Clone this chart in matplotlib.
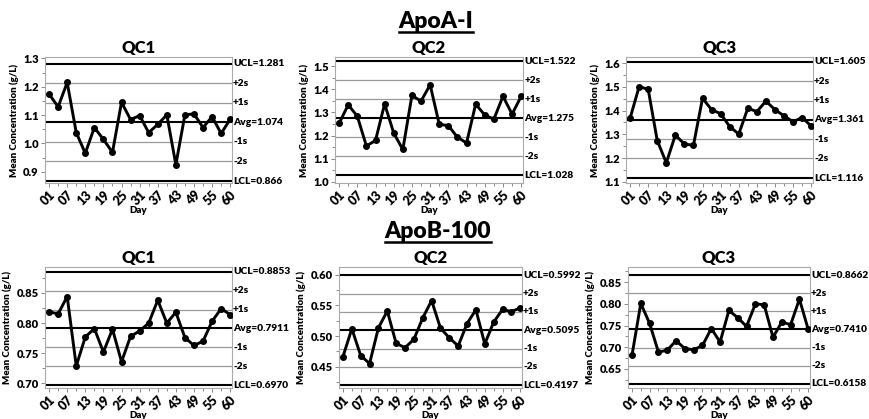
import matplotlib
matplotlib.use("Agg")
import matplotlib.pyplot as plt
from matplotlib.lines import Line2D
from matplotlib.ticker import MultipleLocator, FormatStrFormatter

plt.rcParams['font.family'] = ['Lato', 'DejaVu Sans']
plt.rcParams['font.weight'] = 'heavy'

days = ['01', '04', '07', '10', '13', '16', '19', '22', '25', '28', '31',
        '34', '37', '40', '43', '46', '49', '52', '55', '58', '60']

# ApoA-I
apoa_qc1 = [1.174, 1.129, 1.215, 1.038, 0.965, 1.056, 1.014, 0.968, 1.145, 1.084, 1.098,
            1.038, 1.067, 1.101, 0.925, 1.101, 1.104, 1.056, 1.094, 1.035, 1.085]
apoa_qc2 = [1.253, 1.333, 1.284, 1.155, 1.179, 1.337, 1.211, 1.140, 1.374, 1.349, 1.420,
            1.249, 1.243, 1.193, 1.168, 1.336, 1.289, 1.271, 1.370, 1.293, 1.370]
apoa_qc3 = [1.368, 1.501, 1.490, 1.274, 1.180, 1.297, 1.259, 1.254, 1.452, 1.404, 1.387,
            1.333, 1.301, 1.410, 1.396, 1.440, 1.404, 1.378, 1.353, 1.371, 1.335]

# ApoB-100
apob_qc1 = [0.8187, 0.8154, 0.844, 0.729, 0.777, 0.791, 0.752, 0.790, 0.736, 0.778, 0.787,
            0.800, 0.838, 0.800, 0.818, 0.776, 0.763, 0.770, 0.803, 0.824, 0.814]
apob_qc2 = [0.4665, 0.512, 0.468, 0.455, 0.5135, 0.541, 0.488, 0.481, 0.4946, 0.5297, 0.558,
            0.513, 0.497, 0.4838, 0.5205, 0.543, 0.487, 0.5227, 0.5435, 0.540, 0.546]
apob_qc3 = [0.681, 0.801, 0.755, 0.689, 0.693, 0.715, 0.697, 0.694, 0.704, 0.743, 0.712,
            0.785, 0.768, 0.748, 0.800, 0.798, 0.723, 0.758, 0.752, 0.811, 0.741]

# control limits: (UCL, Avg, LCL) as printed
limits = {
    'apoa_qc1': ('1.281', '1.074', '0.866'),
    'apoa_qc2': ('1.522', '1.275', '1.028'),
    'apoa_qc3': ('1.605', '1.361', '1.116'),
    'apob_qc1': ('0.8853', '0.7911', '0.6970'),
    'apob_qc2': ('0.5992', '0.5095', '0.4197'),
    'apob_qc3': ('0.8662', '0.7410', '0.6158'),
}

W, H = 869, 419


def px_rect(x0, y0, x1, y1):
    return [x0 / W, 1 - y1 / H, (x1 - x0) / W, (y1 - y0) / H]


def draw_panel(ax, values, lim, ylim, step, fmt, title):
    ucl_s, avg_s, lcl_s = lim
    ucl, avg, lcl = float(ucl_s), float(avg_s), float(lcl_s)
    sd = (ucl - avg) / 3
    x = list(range(len(values)))

    for k in (-2, -1, 1, 2):
        ax.axhline(avg + k * sd, color='#9a9a9a', lw=0.9, zorder=1)
    for v in (ucl, avg, lcl):
        ax.axhline(v, color='black', lw=1.5, zorder=2)

    ax.plot(x, values, color='black', lw=2.1, marker='o', ms=4, zorder=3)

    ax.set_xlim(-0.45, 20.2)
    ax.set_ylim(*ylim)
    ax.set_xticks(x[::2])
    ax.set_xticklabels(days[::2], rotation=45, ha='right', rotation_mode='anchor',
                       fontsize=9, fontweight='heavy')
    ax.set_xticks(x[1::2], minor=True)
    ax.yaxis.set_major_locator(MultipleLocator(step))
    ax.yaxis.set_minor_locator(MultipleLocator(step / 2))
    ax.yaxis.set_major_formatter(FormatStrFormatter(fmt))
    ax.tick_params(axis='both', which='major', length=3, width=0.6, color='#777777',
                   labelsize=8, pad=1.5)
    ax.tick_params(axis='both', which='minor', length=2, width=0.6, color='#777777')
    ax.tick_params(axis='x', labelsize=9, pad=1)
    for s in ax.spines.values():
        s.set_color('#aaaaaa')
        s.set_linewidth(0.8)

    ax.set_ylabel('Mean Concentration (g/L)', fontsize=7, fontweight='heavy', labelpad=3)
    ax.set_xlabel('Day', fontsize=7, fontweight='heavy', labelpad=-1)
    ax.set_title(title, fontsize=12, fontweight='heavy', pad=3)

    tr = ax.get_yaxis_transform()
    labels = [(ucl, 'UCL=' + ucl_s), (avg + 2 * sd, '+2s'), (avg + sd, '+1s'),
              (avg, 'Avg=' + avg_s), (avg - sd, '-1s'), (avg - 2 * sd, '-2s'),
              (lcl, 'LCL=' + lcl_s)]
    for yv, txt in labels:
        ax.text(1.006, yv, txt, transform=tr, ha='left', va='center',
                fontsize=7.3, fontweight='heavy', clip_on=False)


fig = plt.figure(figsize=(W / 100, H / 100), dpi=100)

panels = [
    (px_rect(45, 57, 232, 183), apoa_qc1, limits['apoa_qc1'], (0.86, 1.305), 0.1, '%.1f', 'QC1'),
    (px_rect(335, 57, 523, 183), apoa_qc2, limits['apoa_qc2'], (0.995, 1.54), 0.1, '%.1f', 'QC2'),
    (px_rect(626, 57, 813, 183), apoa_qc3, limits['apoa_qc3'], (1.095, 1.626), 0.1, '%.1f', 'QC3'),
    (px_rect(45, 267, 232, 388), apob_qc1, limits['apob_qc1'], (0.6925, 0.893), 0.05, '%.2f', 'QC1'),
    (px_rect(339, 267, 522, 388), apob_qc2, limits['apob_qc2'], (0.415, 0.613), 0.05, '%.2f', 'QC2'),
    (px_rect(628, 267, 810, 388), apob_qc3, limits['apob_qc3'], (0.606, 0.885), 0.05, '%.2f', 'QC3'),
]

for rect, vals, lim, ylim, step, fmt, title in panels:
    ax = fig.add_axes(rect)
    draw_panel(ax, vals, lim, ylim, step, fmt, title)

headers = []
headers.append(fig.text(436 / W, 1 - 22 / H, 'ApoA-I', ha='center', va='center',
                        fontsize=16.5, fontweight='heavy'))
headers.append(fig.text(438 / W, 1 - 232 / H, 'ApoB-100', ha='center', va='center',
                        fontsize=16.5, fontweight='heavy'))

# underline the section headers
fig.canvas.draw()
r = fig.canvas.get_renderer()
for t in headers:
    bb = t.get_window_extent(r)
    yline = bb.y0 + 0.5
    fig.add_artist(Line2D([bb.x0 / W, bb.x1 / W], [yline / H, yline / H],
                          transform=fig.transFigure, color='black', lw=1.8))

fig.savefig('out.png', dpi=100)
